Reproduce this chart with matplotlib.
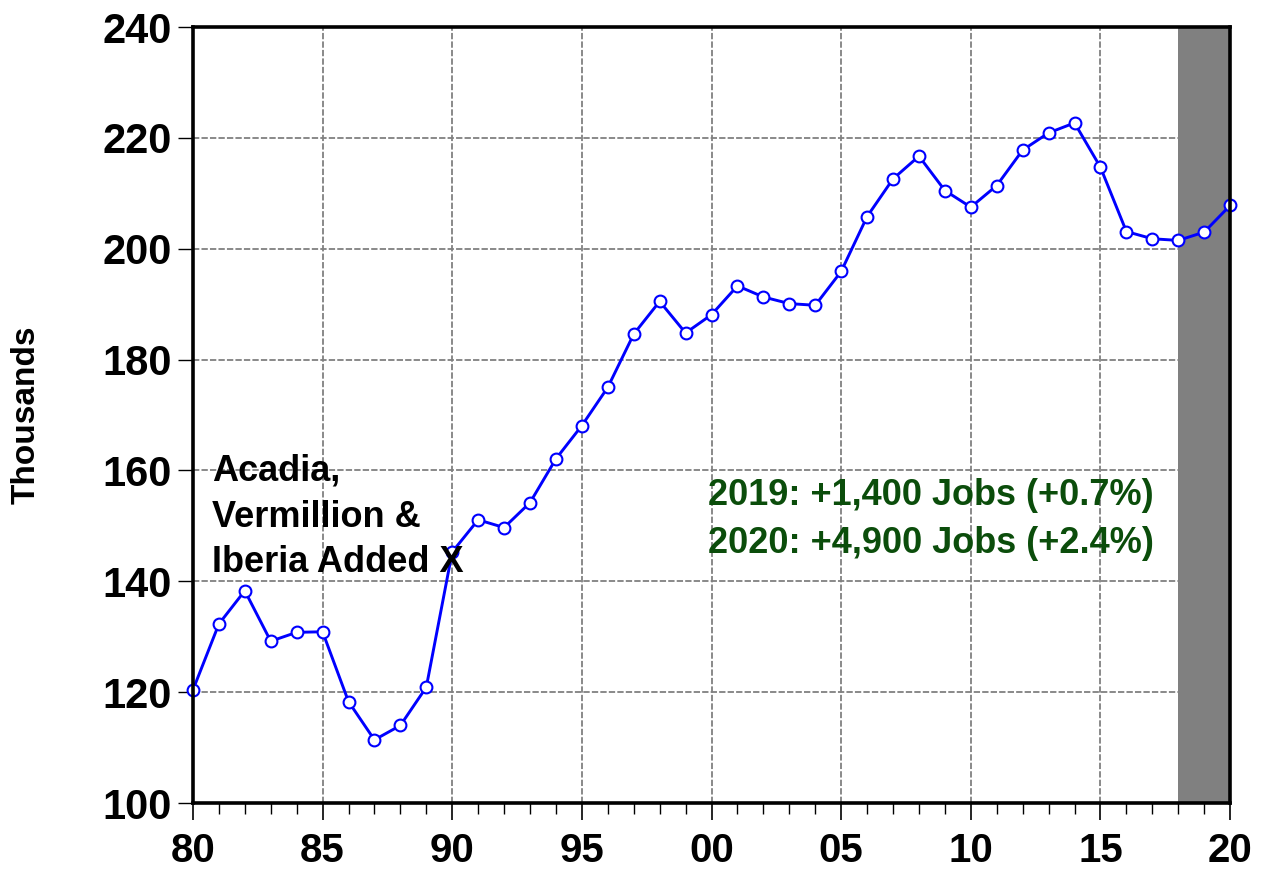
import matplotlib
matplotlib.use('Agg')
import matplotlib.pyplot as plt
from matplotlib.ticker import MultipleLocator, FixedLocator

# Annual employment, thousands
years = list(range(1980, 2021))
jobs = [120.4, 132.3, 138.3, 129.2, 130.8, 130.9, 118.3, 111.4, 114.0, 120.9,
        145.3, 151.1, 149.7, 154.2, 162.1, 168.1, 175.0, 184.6, 190.5, 184.8,
        188.1, 193.3, 191.3, 190.1, 189.8, 195.9, 205.8, 212.6, 216.7, 210.5,
        207.5, 211.4, 217.8, 220.9, 222.7, 214.7, 203.1, 201.8, 201.5, 203.0,
        207.8]

x_ticks = [1980, 1985, 1990, 1995, 2000, 2005, 2010, 2015, 2020]
x_labels = ['80', '85', '90', '95', '00', '05', '10', '15', '20']
y_ticks = [100, 120, 140, 160, 180, 200, 220, 240]

forecast_start, forecast_end = 2018, 2020

note_left = 'Acadia,\nVermillion &\nIberia Added X'
note_right = '2019: +1,400 Jobs (+0.7%)\n2020: +4,900 Jobs (+2.4%)'

fonts = ['Liberation Sans', 'DejaVu Sans']

fig = plt.figure(figsize=(12.61, 8.71), dpi=100)
ax = fig.add_axes([0.153, 0.078, 0.8225, 0.891])

# shaded forecast band
ax.axvspan(forecast_start, forecast_end, color='#808080', zorder=1, lw=0)

ax.plot(years, jobs, color='#0000ff', linewidth=2.1, marker='o',
        markersize=8.5, markerfacecolor='white', markeredgecolor='#0000ff',
        markeredgewidth=1.5, zorder=3, clip_on=False)

ax.set_xlim(1980, 2020)
ax.set_ylim(100, 240)

ax.xaxis.set_major_locator(FixedLocator(x_ticks))
ax.xaxis.set_minor_locator(MultipleLocator(1))
ax.set_xticklabels(x_labels)
ax.set_yticks(y_ticks)

ax.grid(True, which='major', color='#808080', linestyle=(0, (3.5, 1.2)),
        linewidth=1.3, zorder=0)
ax.set_axisbelow(True)

for s in ax.spines.values():
    s.set_linewidth(2.6)
    s.set_zorder(4)

ax.tick_params(axis='x', which='major', direction='out', length=12, width=1.2,
               pad=9, top=False)
ax.tick_params(axis='x', which='minor', direction='out', length=8, width=1.0,
               top=False)
ax.tick_params(axis='y', direction='out', length=11, width=1.0, pad=4,
               right=False)

for lbl in ax.get_xticklabels():
    lbl.set_fontfamily(fonts)
    lbl.set_fontweight('bold')
    lbl.set_fontsize(29)
for lbl in ax.get_yticklabels():
    lbl.set_fontfamily(fonts)
    lbl.set_fontweight('bold')
    lbl.set_fontsize(30)

ax.set_ylabel('Thousands', fontsize=24, fontweight='bold', family=fonts)
ax.yaxis.set_label_coords(-0.146, 0.5)

ax.text(1980.72, 151.6, note_left, fontsize=26, fontweight='bold',
        family=fonts, va='center', ha='left', linespacing=1.4, zorder=5)
ax.text(1999.86, 151.2, note_right, fontsize=26, fontweight='bold',
        family=fonts, color='#0b4d0b', va='center', ha='left',
        linespacing=1.48, zorder=5)

fig.savefig('out.png', dpi=100, facecolor='white')
